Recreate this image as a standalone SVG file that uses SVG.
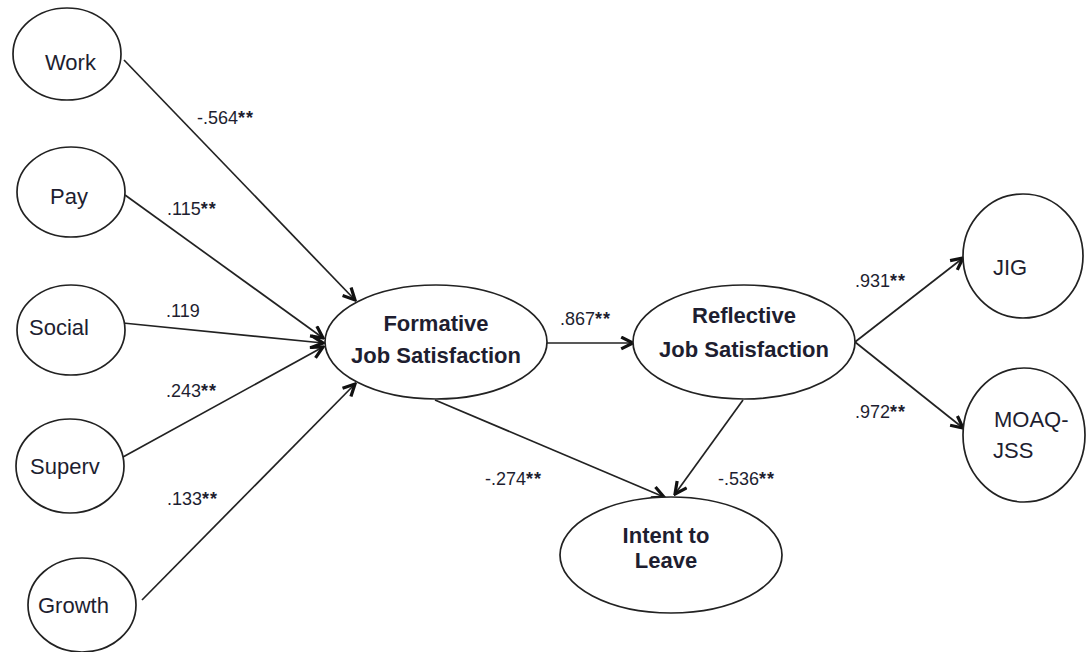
<svg xmlns="http://www.w3.org/2000/svg" width="1086" height="652" viewBox="0 0 1086 652">
<defs>
<marker id="arr" viewBox="0 0 14 14" refX="12.5" refY="7" markerWidth="15" markerHeight="15" markerUnits="userSpaceOnUse" orient="auto">
<path d="M1.5,1.5 L12.5,7 L1.5,12.5" fill="none" stroke="#111" stroke-width="3" stroke-linejoin="miter"/>
</marker>
<style>
ellipse{fill:#fff;stroke:#222;stroke-width:1.7}
.lbl{font-family:"Liberation Sans",Arial,sans-serif;font-size:22px;fill:#1e1e30}
.big{font-family:"Liberation Sans",Arial,sans-serif;font-size:22px;font-weight:bold;fill:#1e1e30;text-anchor:middle}
.num{font-family:"Liberation Sans",Arial,sans-serif;font-size:18px;fill:#1e1e30}
.st{font-weight:bold;letter-spacing:1px}
.edge{stroke:#222;stroke-width:1.7;fill:none;marker-end:url(#arr)}
</style>
</defs>
<rect width="1086" height="652" fill="#fff"/>
<g id="connectors">
<line class="edge" x1="124" y1="60" x2="355" y2="300"/>
<line class="edge" x1="125" y1="195" x2="323" y2="338"/>
<line class="edge" x1="123" y1="323" x2="323" y2="343"/>
<line class="edge" x1="123" y1="457" x2="323" y2="347"/>
<line class="edge" x1="142" y1="600" x2="355" y2="384"/>
<line class="edge" x1="547" y1="343" x2="633" y2="343"/>
<line class="edge" x1="435" y1="400" x2="664" y2="497"/>
<line class="edge" x1="743" y1="400" x2="675" y2="494"/>
<line class="edge" x1="855" y1="342" x2="963" y2="258"/>
<line class="edge" x1="855" y1="342" x2="963" y2="428"/>
</g>
<g id="edge-labels">
<text class="num" x="197" y="124">-.564<tspan class="st">**</tspan></text>
<text class="num" x="167" y="215">.115<tspan class="st">**</tspan></text>
<text class="num" x="166" y="317">.119</text>
<text class="num" x="166" y="397">.243<tspan class="st">**</tspan></text>
<text class="num" x="167" y="505">.133<tspan class="st">**</tspan></text>
<text class="num" x="560" y="325">.867<tspan class="st">**</tspan></text>
<text class="num" x="485" y="485">-.274<tspan class="st">**</tspan></text>
<text class="num" x="718" y="485">-.536<tspan class="st">**</tspan></text>
<text class="num" x="855" y="287">.931<tspan class="st">**</tspan></text>
<text class="num" x="855" y="418">.972<tspan class="st">**</tspan></text>
</g>
<g id="work"><ellipse cx="67" cy="54" rx="54" ry="46"/><text class="lbl" x="45" y="70">Work</text></g>
<g id="pay"><ellipse cx="71" cy="192" rx="54" ry="45"/><text class="lbl" x="50" y="204">Pay</text></g>
<g id="social"><ellipse cx="71" cy="330" rx="54" ry="45"/><text class="lbl" x="29" y="335">Social</text></g>
<g id="superv"><ellipse cx="70" cy="466" rx="54" ry="47"/><text class="lbl" x="30" y="474">Superv</text></g>
<g id="growth"><ellipse cx="82" cy="605" rx="54" ry="47"/><text class="lbl" x="38" y="613">Growth</text></g>
<g id="formative"><ellipse cx="436" cy="342" rx="111" ry="57"/><text class="big" x="436" y="331">Formative</text><text class="big" x="436" y="363">Job Satisfaction</text></g>
<g id="reflective"><ellipse cx="744" cy="342" rx="111" ry="57"/><text class="big" x="744" y="323">Reflective</text><text class="big" x="744" y="357">Job Satisfaction</text></g>
<g id="intent"><ellipse cx="671" cy="555" rx="111" ry="58"/><text class="big" x="666" y="543">Intent to</text><text class="big" x="666" y="568">Leave</text></g>
<g id="jig"><ellipse cx="1023" cy="256" rx="60" ry="62"/><text class="lbl" x="993" y="275">JIG</text></g>
<g id="moaq"><ellipse cx="1024" cy="435" rx="61" ry="67"/><text class="lbl" x="994" y="427">MOAQ-</text><text class="lbl" x="993" y="458">JSS</text></g>
</svg>
